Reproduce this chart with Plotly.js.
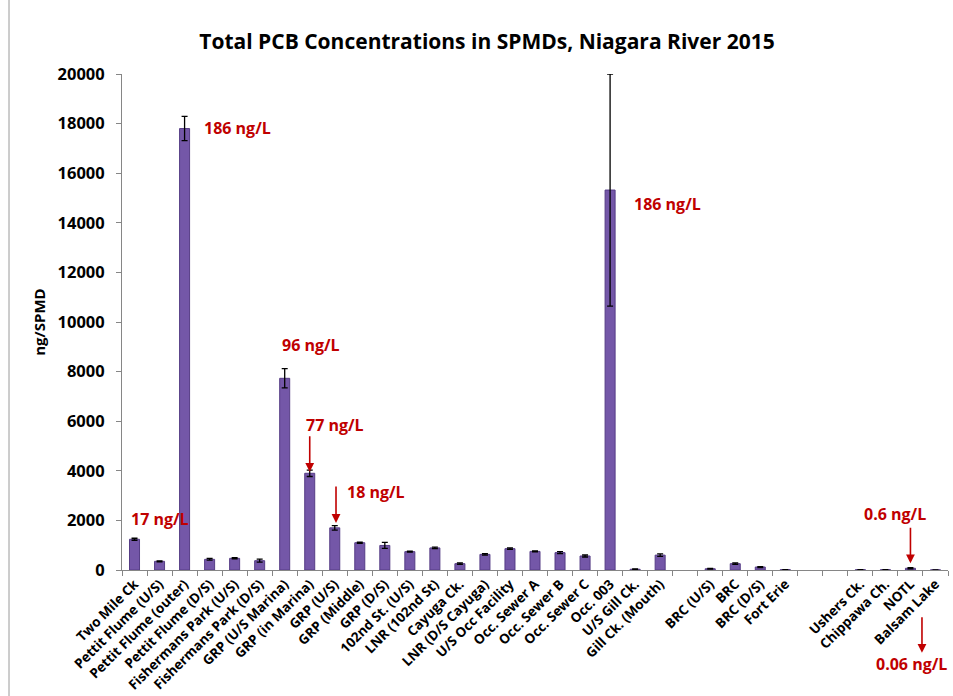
<!DOCTYPE html>
<html>
<head>
<meta charset="utf-8">
<script src="https://cdn.plot.ly/plotly-3.0.1.min.js"></script>
<style>html,body{margin:0;padding:0;background:#fff;}#chart{width:953px;height:696px;}</style>
</head>
<body>
<div id="chart"></div>
<script>
var sites = ["Two Mile Ck", "Pettit Flume (U/S)", "Pettit Flume (outer)", "Pettit Flume (D/S)",
  "Fishermans Park (U/S)", "Fishermans Park (D/S)", "GRP (U/S Marina)", "GRP (in Marina)",
  "GRP (U/S)", "GRP (Middle)", "GRP (D/S)", "102nd St. (U/S)", "LNR (102nd St)", "Cayuga Ck.",
  "LNR (D/S Cayuga)", "U/S Occ Facility", "Occ. Sewer A", "Occ. Sewer B", "Occ. Sewer C",
  "Occ. 003", "U/S Gill Ck.", "Gill Ck. (Mouth)", " ", "BRC (U/S)", "BRC", "BRC (D/S)",
  "Fort Erie", "  ", "   ", "Ushers Ck.", "Chippawa Ch.", "NOTL", "Balsam Lake"];
var pcb = [1240, 350, 17800, 430, 470, 375, 7730, 3900, 1700, 1100, 990, 740, 890, 255,
  630, 860, 750, 700, 565, 15320, 30, 600, null, 50, 255, 120, 15, null, null, 12, 12, 70, 5];
var pcbErr = [40, 20, 490, 35, 25, 60, 390, 130, 90, 25, 120, 20, 30, 30,
  30, 30, 20, 40, 40, 4680, 10, 50, 0, 15, 30, 20, 0, 0, 0, 0, 0, 20, 0];

var notes = ["186 ng/L", "186 ng/L", "96 ng/L", "77 ng/L", "18 ng/L", "17 ng/L", "0.6 ng/L", "0.06 ng/L"];

var red = '#c00000';
var fontFam = '"Open Sans", "Liberation Sans", sans-serif';

var trace = {
  type: 'bar',
  x: sites,
  y: pcb,
  width: 0.4,
  marker: {color: '#7457a8', line: {color: '#563d86', width: 1}},
  error_y: {type: 'data', array: pcbErr, visible: true, color: '#000', thickness: 1.3, width: 3}
};

function txt(t, x, y, yref) {
  return {text: t, x: x, y: y, xref: 'x', yref: yref || 'y', showarrow: false,
    font: {family: fontFam, size: 16, color: red, weight: 'bold'}, xanchor: 'center', yanchor: 'middle'};
}
function arr(x, y, dy, yref) {
  return {text: '', x: x, y: y, xref: 'x', yref: yref || 'y', showarrow: true, ax: 0, ay: -dy,
    arrowhead: 2, arrowsize: 1.1, arrowwidth: 1.6, arrowcolor: red};
}

var layout = {
  width: 953, height: 696,
  margin: {l: 122, r: 5, t: 74, b: 126},
  paper_bgcolor: '#fff', plot_bgcolor: '#fff',
  showlegend: false,
  title: {text: 'Total PCB Concentrations in SPMDs, Niagara River 2015',
    font: {family: fontFam, size: 21, color: '#000', weight: 'bold'}, x: 0.511, xanchor: 'center', y: 0.94, yanchor: 'middle'},
  xaxis: {type: 'category', categoryorder: 'array', categoryarray: sites,
    tickson: 'boundaries', ticks: 'outside', ticklen: 5, tickcolor: '#868686',
    showline: true, linecolor: '#868686', linewidth: 1, showgrid: false, zeroline: false,
    tickangle: -45, tickfont: {family: fontFam, size: 13.5, color: '#000', weight: 'bold'},
    range: [-0.5, 32.5], automargin: false},
  yaxis: {range: [0, 20000], dtick: 2000, tick0: 0, tickformat: 'd', ticks: 'outside', ticklen: 5, tickcolor: '#868686',
    showline: true, linecolor: '#868686', linewidth: 1, showgrid: false, zeroline: false,
    ticklabelstandoff: 8,
    tickfont: {family: fontFam, size: 16.5, color: '#000', weight: 'bold'},
    title: {text: 'ng/SPMD', standoff: 8, font: {family: fontFam, size: 15, color: '#000', weight: 'bold'}},
    automargin: false},
  annotations: [
    txt(notes[0], 4.13, 17820),
    txt(notes[1], 21.31, 14760),
    txt(notes[2], 7.05, 9070),
    txt(notes[3], 8.01, 5850),
    txt(notes[4], 9.65, 3150),
    txt(notes[5], 1.02, 2060),
    txt(notes[6], 30.38, 2260),
    txt(notes[7], 31.06, -0.1895, 'paper'),
    arr(7, 3960, 37),
    arr(8.05, 1900, 38),
    arr(31, 270, 37),
    arr(31.46, -0.1667, 37, 'paper')
  ],
  shapes: [
    {type: 'line', xref: 'paper', yref: 'paper', x0: -0.1368, x1: -0.1368, y0: -0.3, y1: 1.2,
      line: {color: '#9a9a9a', width: 1}}
  ]
};

Plotly.newPlot('chart', [trace], layout, {displayModeBar: false, staticPlot: true});
</script>
</body>
</html>
